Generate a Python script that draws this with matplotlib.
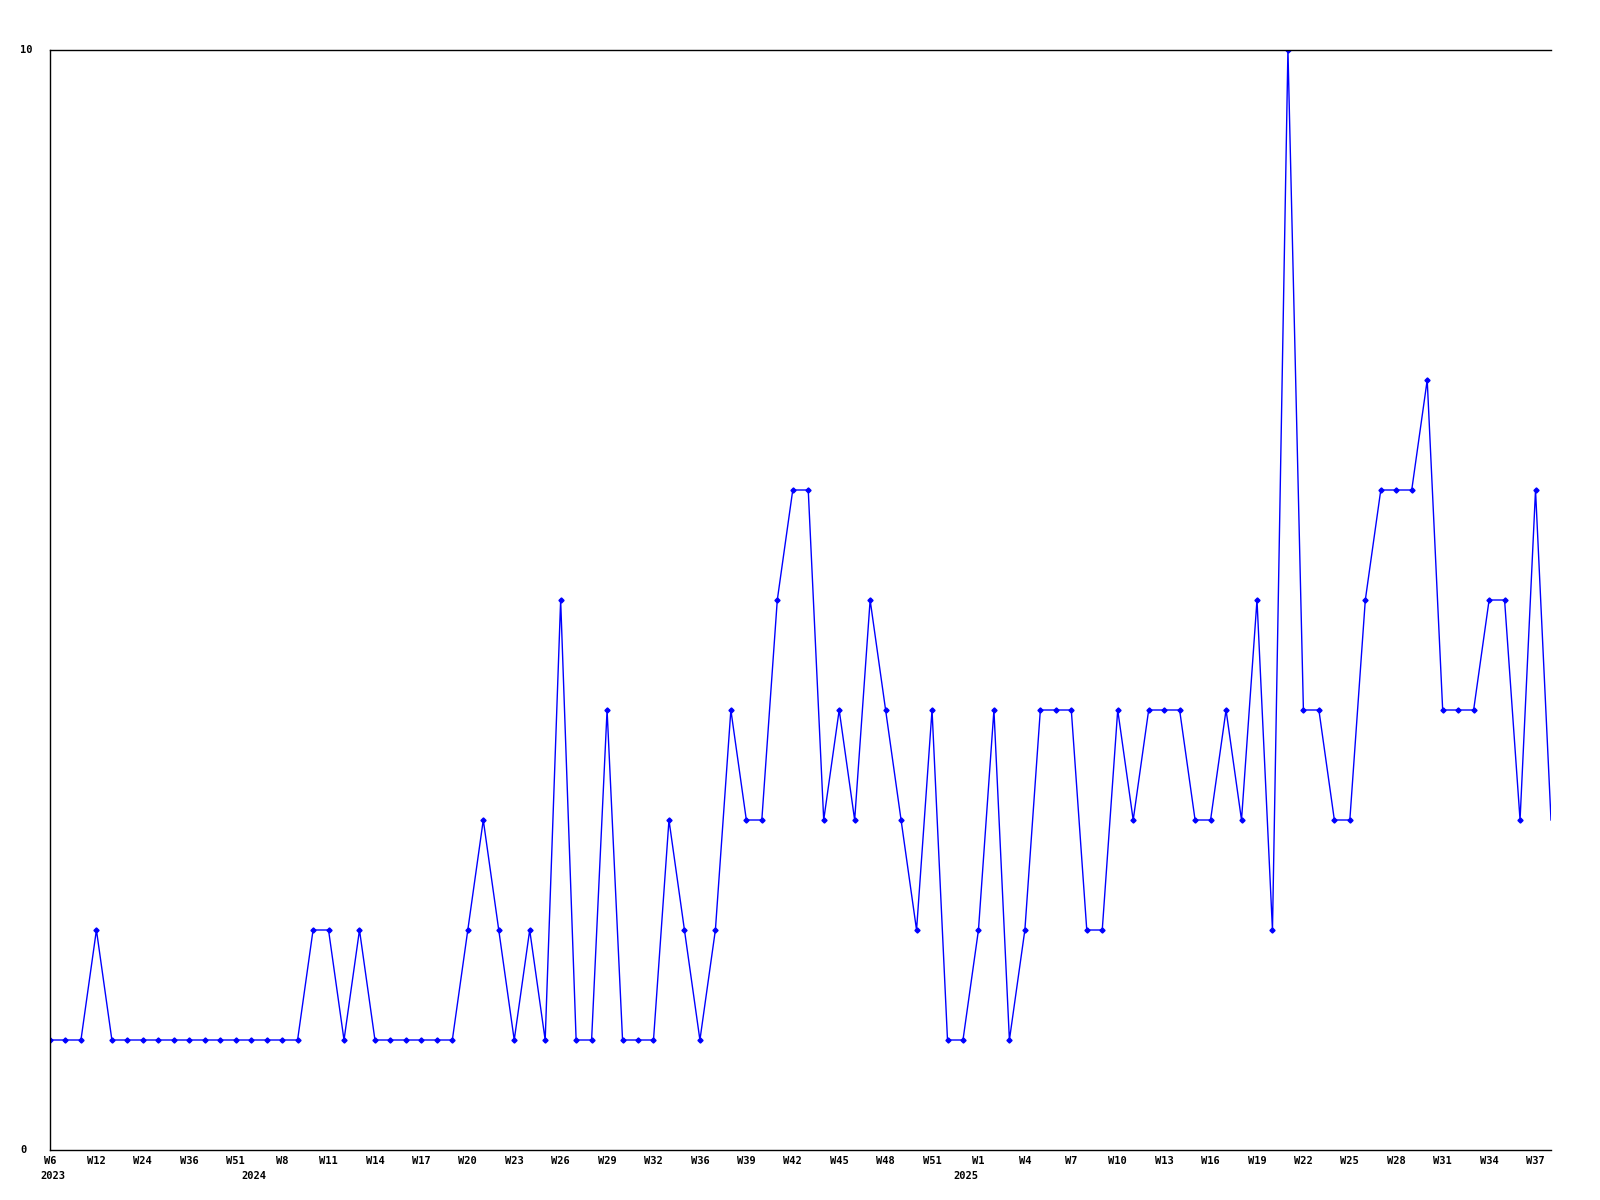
import matplotlib
matplotlib.use("Agg")
import matplotlib.pyplot as plt

# --- donnees (une par semaine) ---
values = [
    1, 1, 1, 2, 1, 1, 1, 1, 1, 1, 1, 1, 1, 1, 1, 1, 1, 2, 2, 1,
    2, 1, 1, 1, 1, 1, 1, 2, 3, 2, 1, 2, 1, 5, 1, 1, 4, 1, 1, 1,
    3, 2, 1, 2, 4, 3, 3, 5, 6, 6, 3, 4, 3, 5, 4, 3, 2, 4, 1, 1,
    2, 4, 1, 2, 4, 4, 4, 2, 2, 4, 3, 4, 4, 4, 3, 3, 4, 3, 5, 2,
    10, 4, 4, 3, 3, 5, 6, 6, 6, 7, 4, 4, 4, 5, 5, 3, 6, 3,
]

# une etiquette toutes les 3 semaines
tick_idx = list(range(0, 97, 3))
tick_labels = ["W6", "W12", "W24", "W36", "W51", "W8", "W11", "W14", "W17",
               "W20", "W23", "W26", "W29", "W32", "W36", "W39", "W42", "W45",
               "W48", "W51", "W1", "W4", "W7", "W10", "W13", "W16", "W19",
               "W22", "W25", "W28", "W31", "W34", "W37"]
years = ["2023", "2024", "2025"]
year_pos = [0.2, 13.2, 59.2]

FONT = dict(family="DejaVu Sans Mono", fontweight="bold", fontsize=7.5)

fig = plt.figure(figsize=(16, 12), dpi=100)
ax = fig.add_axes([50 / 1600, 50 / 1200, 1501 / 1600, 1100 / 1200])

x = list(range(len(values)))
ax.plot(x, values, color="#0000ff", linewidth=1.0, marker="D",
        markersize=2.6, markevery=slice(0, len(values) - 1))

ax.set_xlim(0, len(values) - 1)
ax.set_ylim(0, 10)

ax.spines["right"].set_visible(False)
for s in ["left", "top", "bottom"]:
    ax.spines[s].set_linewidth(1.0)
    ax.spines[s].set_color("black")

ax.set_xticks(tick_idx, tick_labels, **FONT)
ax.set_yticks([])
ax.tick_params(axis="x", length=0, pad=4)

# etiquettes de l'axe y, a gauche
for v in [0, 10]:
    fig.text(20 / 1600, 1 - (1150 - v * 110) / 1200, str(v), ha="left",
             va="center", **FONT)

# annees sous les semaines
for pos, yr in zip(year_pos, years):
    ax.text(pos, -0.019, yr, transform=ax.get_xaxis_transform(),
            ha="center", va="top", **FONT)

fig.savefig("out.png", dpi=100)
